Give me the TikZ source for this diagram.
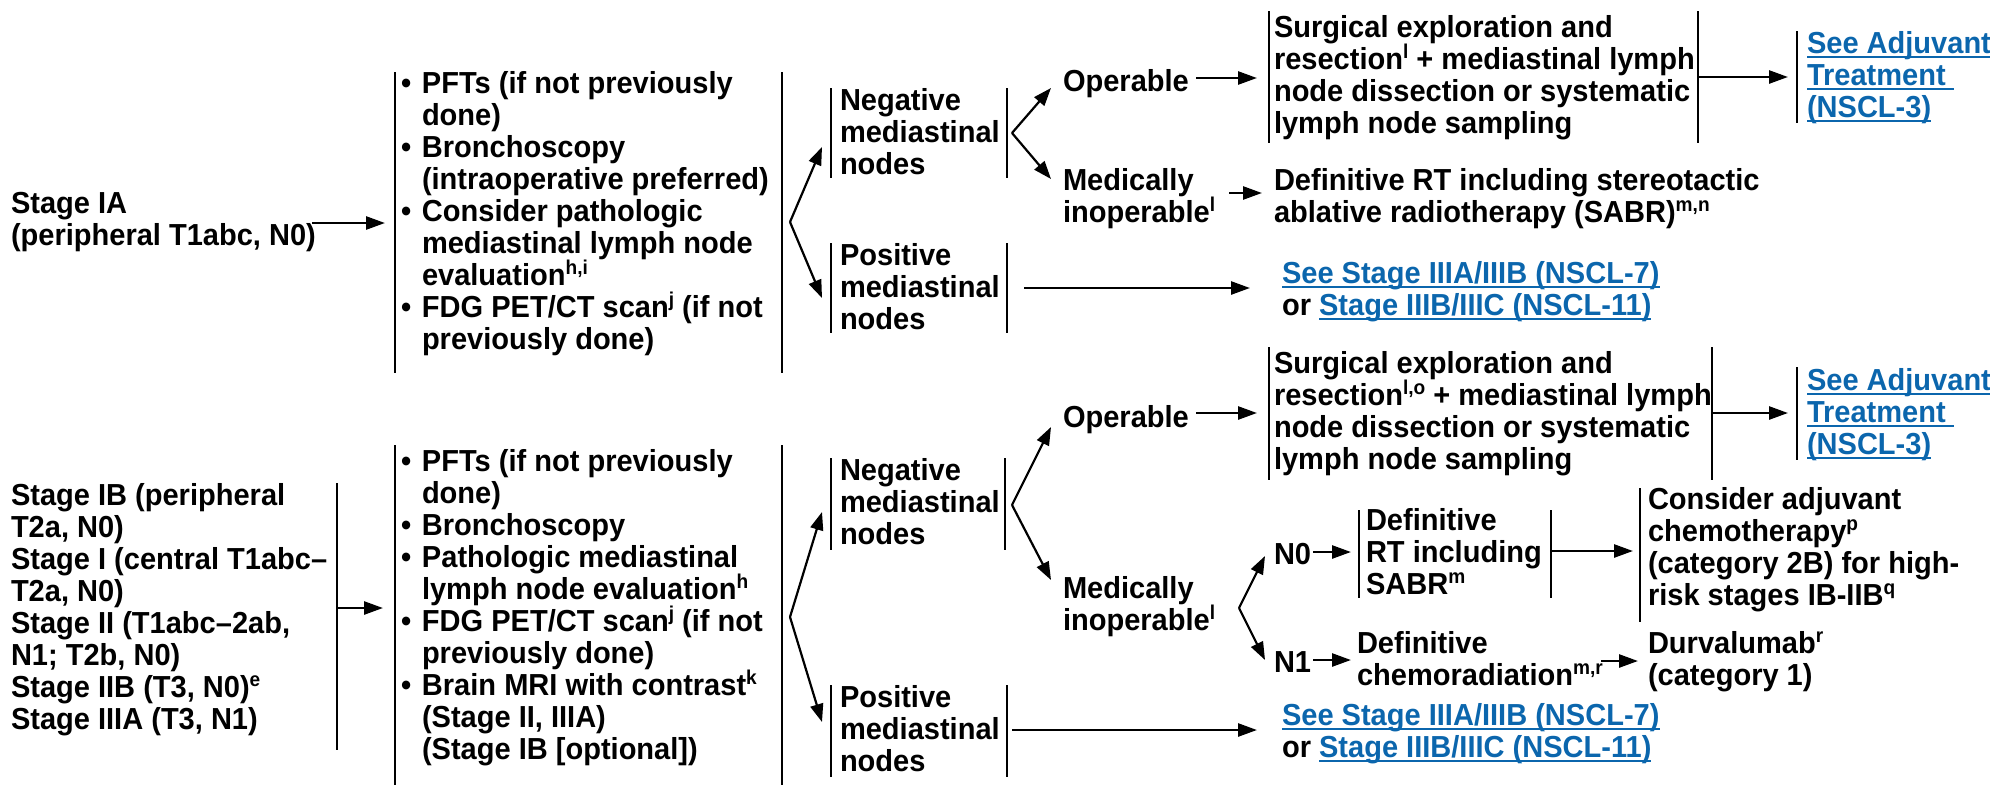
\documentclass[tikz,border=0pt]{standalone}
\usepackage{fontspec}
\setmainfont{Liberation Sans}[FakeStretch=0.955]
\usetikzlibrary{arrows.meta}
\definecolor{linkblue}{HTML}{0B66AD}

% superscript footnote letters
\newcommand{\sups}[1]{\raisebox{0.36em}{\fontsize{20}{20}\selectfont #1}}
% underlined cross-reference
\newcommand{\lnk}[1]{{\color{linkblue}\setbox0=\hbox{#1}\rlap{\rule[-5pt]{\wd0}{2pt}}\box0}}
% bullet and hanging indent
\newcommand{\bul}{\makebox[21pt][l]{\textbullet}}
\newcommand{\ind}{\hspace*{21pt}}

\begin{document}
\begin{tikzpicture}[x=1pt,y=-1pt,
  txt/.style={anchor=north west, inner sep=0pt, outer sep=0pt, align=left,
    yshift=-3pt,
    font=\bfseries\fontsize{30.4}{32}\selectfont,
    execute at begin node={\rule{0pt}{24pt}}},
  bar/.style={line width=2.4pt},
  arr/.style={line width=2.6pt, -{Triangle[length=19pt,width=13pt]}},
  farr/.style={line width=2.2pt, -{Triangle[length=18pt,width=13pt]}}]
\useasboundingbox (0,0) rectangle (1990,785);

% ---------------- Stage IA ----------------
\node[txt] (sIA) at (11,189) {Stage IA\\(peripheral T1abc, N0)};
\node[txt] (w1) at (401,68) {\bul PFTs (if not previously\\
\ind done)\\
\bul Bronchoscopy\\
\ind (intraoperative preferred)\\
\bul Consider pathologic\\
\ind mediastinal lymph node\\
\ind evaluation\sups{h,i}\\
\bul FDG PET/CT scan\sups{j} (if not\\
\ind previously done)};
\draw[bar] (395,72) -- (395,373);
\draw[bar] (782,72) -- (782,373);

\node[txt] (neg1) at (840,85) {Negative\\mediastinal\\nodes};
\draw[bar] (831,88) -- (831,178);
\draw[bar] (1007,88) -- (1007,178);
\node[txt] (pos1) at (840,240) {Positive\\mediastinal\\nodes};
\draw[bar] (831,243) -- (831,333);
\draw[bar] (1007,243) -- (1007,333);

\node[txt] (op1) at (1063,64) {Operable};
\node[txt] (med1) at (1063,165) {Medically\\inoperable\sups{l}};

\node[txt] (surg1) at (1274,12) {Surgical exploration and\\
resection\sups{l} + mediastinal lymph\\
node dissection or systematic\\
lymph node sampling};
\draw[bar] (1269,11) -- (1269,143);
\draw[bar] (1698,11) -- (1698,143);

\node[txt] (adj1) at (1807,28) {\lnk{See Adjuvant}\\\lnk{Treatment\ }\\\lnk{(NSCL-3)}};
\draw[bar] (1797,31) -- (1797,123);

\node[txt] (rt1) at (1274,165) {Definitive RT including stereotactic\\
ablative radiotherapy (SABR)\sups{m,n}};

\node[txt] (ln1) at (1282,258) {\lnk{See Stage IIIA/IIIB (NSCL-7)}\\
or \lnk{Stage IIIB/IIIC (NSCL-11)}};

% connectors, Stage IA
\coordinate (a1s) at (312,223);  \coordinate (a1e) at (385,223);
\coordinate (f1) at (790,222);
\coordinate (f1u) at (822,147);  \coordinate (f1d) at (822,298);
\coordinate (f2) at (1012,133);
\coordinate (f2u) at (1051,88);  \coordinate (f2d) at (1051,179);
\coordinate (opS) at (1196,78);  \coordinate (opE) at (1257,78);
\coordinate (sgS) at (1698,77);  \coordinate (sgE) at (1788,77);
\coordinate (mdS) at (1229,193); \coordinate (mdE) at (1262,193);
\coordinate (psS) at (1024,288); \coordinate (psE) at (1250,288);
\draw[arr] (a1s) -- (a1e);
\draw[farr] (f1) -- (f1u);
\draw[farr] (f1) -- (f1d);
\draw[farr] (f2) -- (f2u);
\draw[farr] (f2) -- (f2d);
\draw[arr] (opS) -- (opE);
\draw[arr] (sgS) -- (sgE);
\draw[arr] (mdS) -- (mdE);
\draw[arr] (psS) -- (psE);

% ---------------- Stage IB -- IIIA ----------------
\node[txt] (sIB) at (11,480) {Stage IB (peripheral\\
T2a, N0)\\
Stage I (central T1abc--\\
T2a, N0)\\
Stage II (T1abc--2ab,\\
N1; T2b, N0)\\
Stage IIB (T3, N0)\sups{e}\\
Stage IIIA (T3, N1)};
\draw[bar] (337,483) -- (337,750);

\node[txt] (w2) at (401,446) {\bul PFTs (if not previously\\
\ind done)\\
\bul Bronchoscopy\\
\bul Pathologic mediastinal\\
\ind lymph node evaluation\sups{h}\\
\bul FDG PET/CT scan\sups{j} (if not\\
\ind previously done)\\
\bul Brain MRI with contrast\sups{k}\\
\ind (Stage II, IIIA)\\
\ind (Stage IB [optional])};
\draw[bar] (395,445) -- (395,785);
\draw[bar] (782,445) -- (782,785);

\node[txt] (neg2) at (840,455) {Negative\\mediastinal\\nodes};
\draw[bar] (831,458) -- (831,550);
\draw[bar] (1005,458) -- (1005,550);
\node[txt] (pos2) at (840,682) {Positive\\mediastinal\\nodes};
\draw[bar] (831,685) -- (831,777);
\draw[bar] (1007,685) -- (1007,777);

\node[txt] (op2) at (1063,400) {Operable};
\node[txt] (med2) at (1063,573) {Medically\\inoperable\sups{l}};

\node[txt] (surg2) at (1274,348.5) {Surgical exploration and\\
resection\sups{l,o} + mediastinal lymph\\
node dissection or systematic\\
lymph node sampling};
\draw[bar] (1269,347) -- (1269,480);
\draw[bar] (1712,347) -- (1712,480);

\node[txt] (adj2) at (1807,365) {\lnk{See Adjuvant}\\\lnk{Treatment\ }\\\lnk{(NSCL-3)}};
\draw[bar] (1797,367) -- (1797,460);

\node[txt] (n0) at (1274,537) {N0};
\node[txt] (rt2) at (1366,505.5) {Definitive\\RT including\\SABR\sups{m}};
\draw[bar] (1359,510) -- (1359,598);
\draw[bar] (1551,510) -- (1551,598);

\node[txt] (cons) at (1648,484) {Consider adjuvant\\
chemotherapy\sups{p}\\
(category 2B) for high-\\
risk stages IB-IIB\sups{q}};
\draw[bar] (1640,488) -- (1640,622);

\node[txt] (n1) at (1274,645) {N1};
\node[txt] (chemo) at (1357,628) {Definitive\\chemoradiation\sups{m,r}};
\node[txt] (durva) at (1648,628) {Durvalumab\sups{r}\\(category 1)};

\node[txt] (ln2) at (1282,700) {\lnk{See Stage IIIA/IIIB (NSCL-7)}\\
or \lnk{Stage IIIB/IIIC (NSCL-11)}};

% connectors, Stage IB -- IIIA
\coordinate (b1s) at (337,608);  \coordinate (b1e) at (383,608);
\coordinate (g1) at (790,617);
\coordinate (g1u) at (822,512);  \coordinate (g1d) at (822,722);
\coordinate (g2) at (1012,505);
\coordinate (g2u) at (1051,427); \coordinate (g2d) at (1051,580);
\coordinate (op2S) at (1196,413); \coordinate (op2E) at (1257,413);
\coordinate (sg2S) at (1712,413); \coordinate (sg2E) at (1788,413);
\coordinate (g3) at (1239,608);
\coordinate (g3u) at (1265,556); \coordinate (g3d) at (1265,660);
\coordinate (n0S) at (1313,552); \coordinate (n0E) at (1351,552);
\coordinate (n1S) at (1313,660); \coordinate (n1E) at (1351,660);
\coordinate (rtS) at (1551,551); \coordinate (rtE) at (1633,551);
\coordinate (chS) at (1601,661); \coordinate (chE) at (1638,661);
\coordinate (ps2S) at (1012,730); \coordinate (ps2E) at (1257,730);
\draw[arr] (b1s) -- (b1e);
\draw[farr] (g1) -- (g1u);
\draw[farr] (g1) -- (g1d);
\draw[farr] (g2) -- (g2u);
\draw[farr] (g2) -- (g2d);
\draw[arr] (op2S) -- (op2E);
\draw[arr] (sg2S) -- (sg2E);
\draw[farr] (g3) -- (g3u);
\draw[farr] (g3) -- (g3d);
\draw[arr] (n0S) -- (n0E);
\draw[arr] (n1S) -- (n1E);
\draw[arr] (rtS) -- (rtE);
\draw[arr] (chS) -- (chE);
\draw[arr] (ps2S) -- (ps2E);
\end{tikzpicture}
\end{document}
